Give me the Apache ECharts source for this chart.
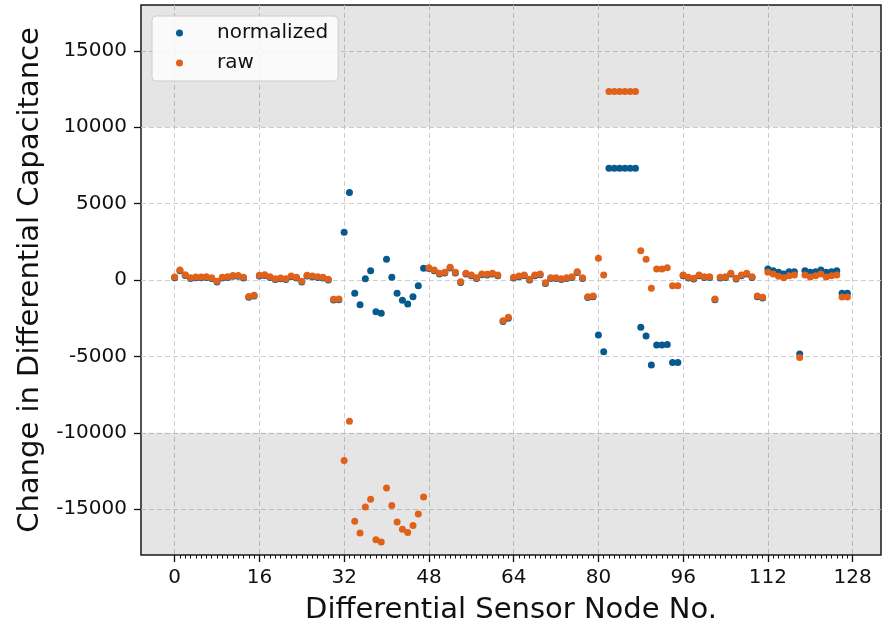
<!DOCTYPE html>
<html>
<head>
<meta charset="utf-8">
<script src="https://cdn.jsdelivr.net/npm/echarts@6/dist/echarts.min.js"></script>
<style>
  html, body { margin: 0; padding: 0; background: #fff; }
  #chart { width: 885px; height: 623px; }
</style>
</head>
<body>
<div id="chart"></div>
<script>
// values per differential sensor node (0..127)
const normalized = [
  150, 600, 300, 100, 150, 150, 170, 100, -130, 130, 170, 250, 250, 130, -1130, -1050,
  256, 300, 168, 37, 81, 37, 212, 125, -137, 256, 212, 168, 125, -6, -1310, -1300,
  3125, 5720, -873, -1616, 87, 611, -2075, -2184, 1354, 175, -873, -1332, -1573, -1092, -371, 764,
  758, 605, 387, 452, 780, 452, -159, 387, 278, 103, 343, 321, 387, 278, -2715, -2496,
  125, 212, 278, -6, 278, 343, -225, 103, 103, 37, 103, 168, 496, 103, -1142, -1098,
  -3604, -4696, 7320, 7320, 7320, 7320, 7320, 7320, -3100, -3670, -5570, -4260, -4260, -4215, -5395, -5395,
  278, 125, 59, 278, 168, 168, -1295, 125, 168, 387, 59, 278, 387, 168, -1098, -1185,
  720, 611, 502, 393, 546, 546, -4850, 611, 502, 546, 655, 502, 546, 611, -873, -873
];
const raw = [
  200, 650, 350, 150, 200, 200, 220, 150, -80, 180, 220, 300, 300, 180, -1080, -1000,
  306, 350, 218, 87, 131, 87, 262, 175, -87, 306, 262, 218, 175, 44, -1260, -1250,
  -11815, -9240, -15790, -16560, -14855, -14350, -16995, -17150, -13610, -14765, -15840, -16320, -16530, -16075, -15315, -14200,
  808, 655, 437, 502, 830, 502, -109, 437, 328, 153, 393, 371, 437, 328, -2665, -2446,
  175, 262, 328, 44, 328, 393, -175, 153, 153, 87, 153, 218, 546, 153, -1092, -1048,
  1420, 328, 12340, 12340, 12340, 12340, 12340, 12340, 1920, 1354, -546, 720, 720, 808, -371, -371,
  328, 175, 109, 328, 218, 218, -1245, 175, 218, 437, 109, 328, 437, 218, -1048, -1135,
  502, 393, 240, 153, 284, 328, -5068, 328, 196, 284, 393, 196, 284, 328, -1114, -1114
];
const xTicks = [0, 16, 32, 48, 64, 80, 96, 112, 128];
const yTicks = [-15000, -10000, -5000, 0, 5000, 10000, 15000];
const shadedBands = [[10000, 18000], [-18000, -10000]];

const FONT = 'DejaVu Sans';
const BLUE = '#065a8f';
const ORANGE = '#e0611a';

const minorTicks = [];
for (let i = 0; i <= 128; i++) {
  if (i % 16 !== 0) minorTicks.push(i);
}

const toPoints = vals => vals.map((v, i) => [i, v]);

const chart = echarts.init(document.getElementById('chart'));

const gridLine = { show: true, lineStyle: { type: [5, 3], color: '#cfcfcf', width: 1 } };
const noLine = { show: false, onZero: false };

const option = {
  animation: false,
  grid: {
    left: 141, right: 4, top: 5, bottom: 68,
    outerBoundsMode: 'none',
    containLabel: false,
    show: true, borderColor: '#1a1a1a', borderWidth: 1.5, backgroundColor: 'transparent'
  },
  legend: {
    data: ['normalized', 'raw'],
    orient: 'vertical',
    left: 152,
    top: 16,
    icon: 'circle',
    itemWidth: 7,
    itemHeight: 7,
    itemGap: 10,
    padding: [7, 10, 8, 24],
    backgroundColor: 'rgba(255,255,255,0.8)',
    borderColor: '#cccccc',
    borderWidth: 1,
    borderRadius: 4,
    textStyle: { fontSize: 20, color: '#111', fontFamily: FONT, padding: [0, 0, 0, 29] }
  },
  xAxis: [
    {
      type: 'value',
      min: -6.35,
      max: 133.35,
      name: 'Differential Sensor Node No.',
      nameLocation: 'middle',
      nameGap: 41,
      nameTextStyle: { fontSize: 29, color: '#111', fontFamily: FONT },
      axisLine: noLine,
      axisTick: { show: true, customValues: xTicks, length: 7, lineStyle: { color: '#111', width: 1.3 } },
      axisLabel: { customValues: xTicks, fontSize: 20, color: '#111', fontFamily: FONT, margin: 13 },
      splitLine: gridLine
    },
    {
      type: 'value',
      position: 'bottom',
      min: -6.35,
      max: 133.35,
      axisLine: noLine,
      axisLabel: { show: false },
      splitLine: { show: false },
      axisTick: { show: true, customValues: minorTicks, length: 3.5, lineStyle: { color: '#111', width: 1 } }
    }
  ],
  yAxis: {
    type: 'value',
    min: -18000,
    max: 18000,
    name: 'Change in Differential Capacitance',
    nameLocation: 'middle',
    nameGap: 93,
    nameTextStyle: { fontSize: 29, color: '#111', fontFamily: FONT },
    axisLine: noLine,
    axisTick: { show: true, customValues: yTicks, length: 7, lineStyle: { color: '#111', width: 1.3 } },
    axisLabel: {
      customValues: yTicks, fontSize: 20, color: '#111', fontFamily: FONT, margin: 14,
      formatter: v => String(v)
    },
    splitLine: gridLine
  },
  series: [
    {
      name: 'normalized',
      type: 'scatter',
      data: toPoints(normalized),
      symbolSize: 7,
      itemStyle: { color: BLUE, opacity: 1 },
      emphasis: { disabled: true },
      markArea: {
        silent: true,
        itemStyle: { color: 'rgba(0,0,0,0.1)' },
        data: shadedBands.map(b => [{ yAxis: b[0] }, { yAxis: b[1] }])
      }
    },
    {
      name: 'raw',
      type: 'scatter',
      data: toPoints(raw),
      symbolSize: 7,
      itemStyle: { color: ORANGE, opacity: 1 },
      emphasis: { disabled: true }
    }
  ]
};

chart.setOption(option);
</script>
</body>
</html>
